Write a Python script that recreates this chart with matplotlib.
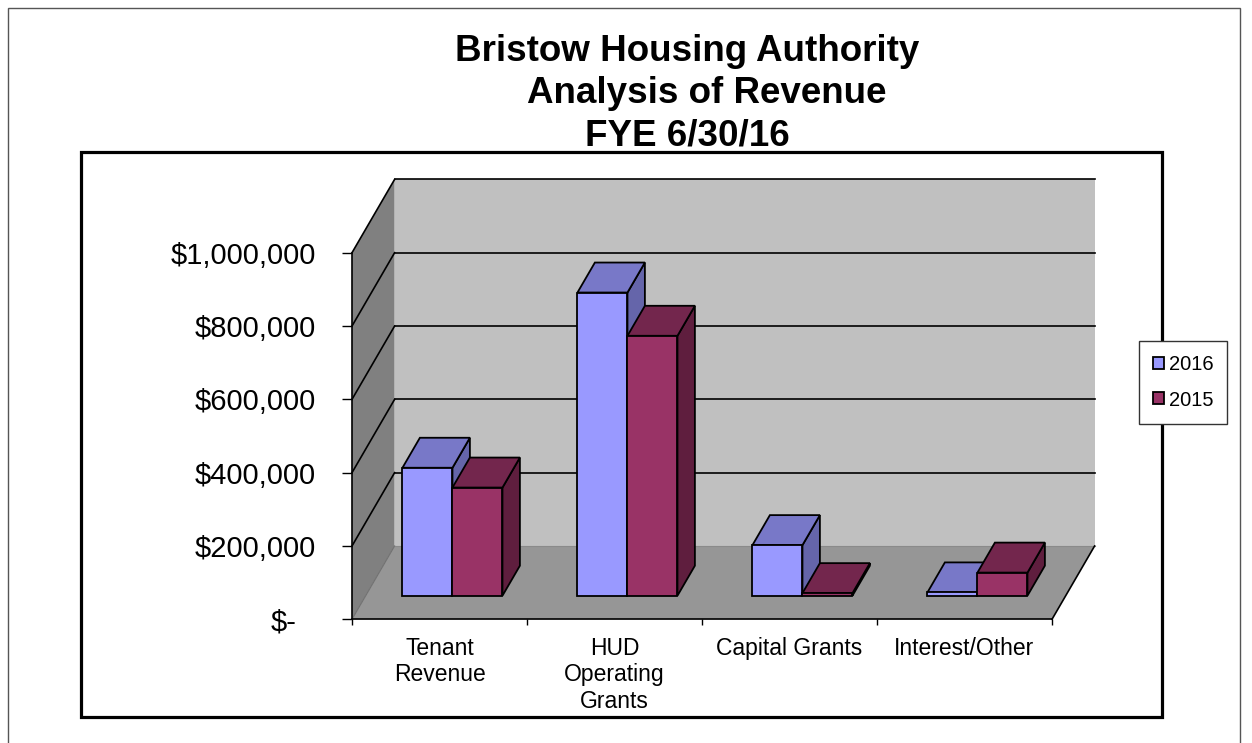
import matplotlib
matplotlib.use("Agg")
import matplotlib.pyplot as plt
from matplotlib.patches import Polygon, Rectangle, Patch
from matplotlib.lines import Line2D
from matplotlib.transforms import ScaledTranslation
from matplotlib.ticker import FixedLocator, FuncFormatter

plt.rcParams['font.family'] = ['Liberation Sans', 'DejaVu Sans']

# ---------------- data ----------------
categories = ["Tenant\nRevenue", "HUD\nOperating\nGrants", "Capital Grants", "Interest/Other"]
series_names = ["2016", "2015"]
values_2016 = [349000, 827000, 138000, 9000]
values_2015 = [295000, 709000, 7000, 63000]
y_ticks = [0, 200000, 400000, 600000, 800000, 1000000]
title_lines = ["Bristow Housing Authority", "Analysis of Revenue", "FYE 6/30/16"]

# ---------------- style ----------------
W, H = 1252, 743
fig = plt.figure(figsize=(W / 100, H / 100), dpi=100)


def fx(px):
    return px / W


def fy(py):
    return 1 - py / H


col_front = ["#9999FF", "#993366"]
col_top = ["#7878C8", "#73264D"]
col_side = ["#6565AA", "#5F1E3E"]
back_wall = "#C0C0C0"
left_wall = "#808080"
floor_col = "#969696"

# outer chart border
fig.patches.append(Rectangle((fx(8), fy(760)), fx(1240) - fx(8), fy(8) - fy(760),
                             transform=fig.transFigure, fill=False, ec="#555555", lw=1.0))
# plot area border
fig.patches.append(Rectangle((fx(80.5), fy(716.5)), fx(1161.5) - fx(80.5), fy(151.5) - fy(716.5),
                             transform=fig.transFigure, fill=False, ec="black", lw=2.3, zorder=0))

# titles
title_x = [687, 707, 687]
title_base = [61, 103, 146]
for t, x, yb in zip(title_lines, title_x, title_base):
    fig.text(fx(x), fy(yb), t, ha="center", va="baseline", fontsize=26.5, fontweight="bold")

# main axes: front plane (x: categories 0..4, y: value)
y_front0, y_front_top = 619.3, 179.4
ax = fig.add_axes([fx(352), fy(y_front0), fx(1052) - fx(352), fy(y_front_top) - fy(y_front0)])
ax.set_xlim(0, 4)
ax.set_ylim(0, 1200000)
ax.patch.set_visible(False)

DX = 42.6 / 175.0      # depth offset in category units
DY = 200000.0          # depth offset in value units
vmax = y_ticks[-1]
ncat = len(categories)

# walls
ax.add_patch(Polygon([(DX, DY), (ncat + DX, DY), (ncat + DX, vmax + DY), (DX, vmax + DY)],
                     closed=True, fc=back_wall, ec="none", zorder=1, clip_on=False))
ax.add_patch(Polygon([(0, 0), (DX, DY), (DX, vmax + DY), (0, vmax)],
                     closed=True, fc=left_wall, ec="none", zorder=1, clip_on=False))
ax.add_patch(Polygon([(0, 0), (ncat, 0), (ncat + DX, DY), (DX, DY)],
                     closed=True, fc=floor_col, ec="none", zorder=1, clip_on=False))
# floor edges
ax.add_line(Line2D([0, DX], [0, DY], color="#707070", lw=0.8, zorder=2, clip_on=False))
ax.add_line(Line2D([DX, ncat + DX], [DY, DY], color="#8a8a8a", lw=0.8, zorder=2, clip_on=False))
ax.add_line(Line2D([ncat, ncat + DX], [0, DY], color="black", lw=1.2, zorder=2, clip_on=False))

# gridlines
for v in y_ticks[1:]:
    ax.add_line(Line2D([DX, ncat + DX], [v + DY, v + DY], color="black", lw=1.2, zorder=2, clip_on=False))
    ax.add_line(Line2D([0, DX], [v, v + DY], color="black", lw=1.2, zorder=2, clip_on=False))

# bars
d_front, d_back = 0.322, 0.731
bar_off, bar_w = 0.21, 50 / 175.0
z = 5
for i in range(ncat):
    for s, vals in enumerate([values_2016, values_2015]):
        v = vals[i]
        x0 = i + bar_off + s * bar_w
        x1 = x0 + bar_w
        fxo, fyo = d_front * DX, d_front * DY
        bxo, byo = d_back * DX, d_back * DY
        front = [(x0 + fxo, fyo), (x1 + fxo, fyo), (x1 + fxo, v + fyo), (x0 + fxo, v + fyo)]
        side = [(x1 + fxo, fyo), (x1 + bxo, byo), (x1 + bxo, v + byo), (x1 + fxo, v + fyo)]
        top = [(x0 + fxo, v + fyo), (x1 + fxo, v + fyo), (x1 + bxo, v + byo), (x0 + bxo, v + byo)]
        for poly, c in [(side, col_side[s]), (top, col_top[s]), (front, col_front[s])]:
            ax.add_patch(Polygon(poly, closed=True, fc=c, ec="black", lw=1.3,
                                 joinstyle="miter", zorder=z, clip_on=False))
            z += 1

# spines
for sp in ["top", "right"]:
    ax.spines[sp].set_visible(False)
ax.spines["left"].set_bounds(0, vmax)
ax.spines["left"].set_linewidth(1.2)
ax.spines["bottom"].set_linewidth(1.2)
ax.spines["left"].set_zorder(3)
ax.spines["bottom"].set_zorder(3)

# y axis
ax.yaxis.set_major_locator(FixedLocator(y_ticks))
ax.yaxis.set_major_formatter(FuncFormatter(lambda v, p: "$-" if v == 0 else "${:,.0f}".format(v)))
ax.tick_params(axis="y", which="major", direction="out", length=7.2, width=1.0,
               pad=19, labelsize=21)

# x axis
ax.xaxis.set_major_locator(FixedLocator(list(range(ncat + 1))))
ax.xaxis.set_major_formatter(FuncFormatter(lambda v, p: ""))
ax.xaxis.set_minor_locator(FixedLocator([i + 0.5 for i in range(ncat)]))
ax.xaxis.set_minor_formatter(FuncFormatter(lambda v, p: categories[int(v)]))
ax.tick_params(axis="x", which="minor", length=0, pad=12.5, labelsize=16.5)
ax.tick_params(axis="x", which="major", direction="out", length=4.3, width=1.0)
for lab in ax.xaxis.get_minorticklabels():
    lab.set_linespacing(1.2)
    lab.set_ha("center")

# shift the "$-" label left (accounting format spacing)
t0 = ax.yaxis.get_major_ticks()[0]
t0.label1.set_transform(t0.label1.get_transform() + ScaledTranslation(-0.19, 0, fig.dpi_scale_trans))

# legend
handles = [Patch(fc=col_front[k], ec="black", lw=1.3) for k in range(2)]
leg = fig.legend(handles, series_names, loc="center",
                 bbox_to_anchor=(fx(1183), fy(382.5)), frameon=True, fancybox=False,
                 edgecolor="#333333", framealpha=1, fontsize=14.5,
                 handlelength=0.55, handleheight=0.55, handletextpad=0.25,
                 borderpad=0.7, labelspacing=0.8)
leg.get_frame().set_linewidth(1.0)
leg.set_zorder(10)

fig.savefig("out.png", dpi=100)
